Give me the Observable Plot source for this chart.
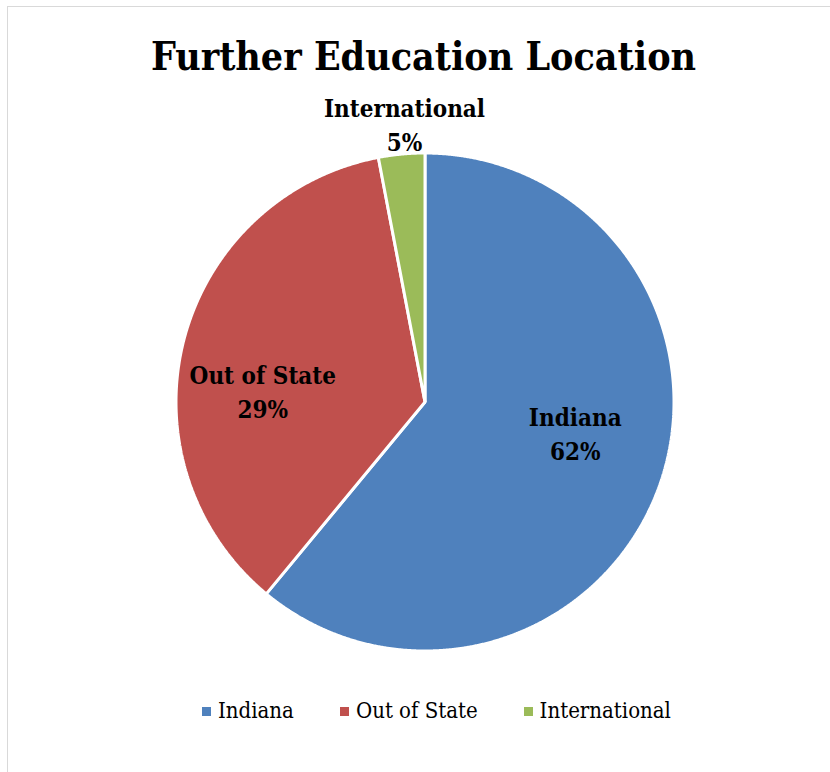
<!DOCTYPE html>
<html><head><meta charset="utf-8">
<script src="https://cdn.jsdelivr.net/npm/d3@7"></script>
<script src="https://cdn.jsdelivr.net/npm/@observablehq/plot@0.6"></script>
<style>
html,body{margin:0;padding:0;background:#fff;}
#page{position:relative;width:830px;height:772px;overflow:hidden;background:#fff;}
#frame{position:absolute;left:7px;top:6px;width:840px;height:780px;border:1.5px solid #d9d9d9;box-sizing:border-box;}
#title{position:absolute;left:0;width:847px;top:37px;text-align:center;font-family:"DejaVu Serif Condensed","DejaVu Serif",serif;font-stretch:condensed;font-weight:bold;font-size:39px;line-height:39px;color:#000;white-space:nowrap;}
#chart{position:absolute;left:0;top:90px;}
#legend{position:absolute;left:202px;top:700px;display:flex;align-items:center;gap:46px;font-family:"DejaVu Serif Condensed","DejaVu Serif",serif;font-stretch:condensed;font-size:22px;line-height:22px;color:#000;white-space:nowrap;}
#legend .item{display:flex;align-items:center;}
#legend .sw{width:9px;height:9px;margin-right:7px;display:inline-block;}
</style>
</head><body>
<div id="page">
  <div id="frame"></div>
  <div id="title"></div>
  <div id="chart"></div>
  <div id="legend"></div>
</div>
<script>
// ---- data ----
const titleText = "Further Education Location";
const categories = ["Indiana", "Out of State", "International"];
const shares = [61, 36, 3];               // slice sizes as drawn
const percentLabels = ["62%", "29%", "5%"]; // labels as printed
const colors = ["#4F81BD", "#C0504D", "#9BBB59"];

// ---- layout (not data) ----
const labelLayout = [
  {r: 0.62, dx: 5, dy: -22},
  {r: 0.66, dx: -3, dy: 29},
  {r: 1.13, dx: 6, dy: 1}
];
const labelFont = '"DejaVu Serif Condensed","DejaVu Serif",serif';

document.getElementById("title").textContent = titleText;

const arcs = d3.pie().sort(null)(shares);
const polyRows = [];
arcs.forEach((a, i) => {
  const k = categories[i];
  polyRows.push({k, x: 0, y: 0});
  const n = Math.max(2, Math.ceil((a.endAngle - a.startAngle) / 0.004));
  for (let j = 0; j <= n; j++) {
    const t = a.startAngle + (a.endAngle - a.startAngle) * j / n;
    polyRows.push({k, x: Math.sin(t), y: Math.cos(t)});
  }
});

const labelMarks = arcs.map((a, i) => {
  const mid = (a.startAngle + a.endAngle) / 2;
  const L = labelLayout[i];
  return Plot.text([{x: Math.sin(mid) * L.r, y: Math.cos(mid) * L.r, t: categories[i] + "\n" + percentLabels[i]}], {
    x: "x", y: "y", text: "t",
    fontSize: 24, fontWeight: "bold", fontFamily: labelFont,
    lineHeight: 1.42, lineAnchor: "middle", textAnchor: "middle",
    fill: "#000", dx: L.dx, dy: L.dy
  });
});

const plot = Plot.plot({
  width: 830,
  height: 600,
  marginLeft: 175.5,
  marginRight: 156.5,
  marginTop: 62.5,
  marginBottom: 39.5,
  x: {domain: [-1, 1], axis: null},
  y: {domain: [-1, 1], axis: null},
  color: {domain: categories, range: colors},
  style: {background: "transparent", overflow: "visible"},
  marks: [
    Plot.line(polyRows, {x: "x", y: "y", z: "k", fill: "k", stroke: "#fff", strokeWidth: 3, curve: "linear-closed", strokeLinejoin: "miter"}),
    ...labelMarks
  ]
});
document.getElementById("chart").appendChild(plot);

const legend = document.getElementById("legend");
categories.forEach((c, i) => {
  const item = document.createElement("div");
  item.className = "item";
  const sw = document.createElement("span");
  sw.className = "sw";
  sw.style.background = colors[i];
  const tx = document.createElement("span");
  tx.textContent = c;
  item.appendChild(sw);
  item.appendChild(tx);
  legend.appendChild(item);
});
</script>
</body></html>
